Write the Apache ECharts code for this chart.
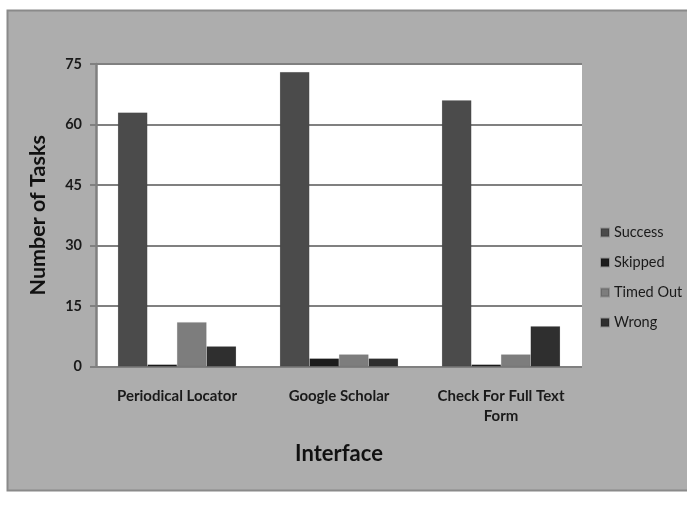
<!DOCTYPE html>
<html>
<head>
<meta charset="utf-8">
<script src="https://cdn.jsdelivr.net/npm/echarts@6/dist/echarts.min.js"></script>
<style>
html,body{margin:0;padding:0;background:#fff;}
#chart{width:687px;height:510px;}
</style>
</head>
<body>
<div id="chart"></div>
<script>
const categories = ['Periodical Locator', 'Google Scholar', 'Check For Full Text\nForm'];
const success = [63, 73, 66];
const skipped = [0.5, 2, 0.5];
const timedOut = [11, 3, 3];
const wrong = [5, 2, 10];
const yTicks = [0, 15, 30, 45, 60, 75];

const chart = echarts.init(document.getElementById('chart'));
const font = 'Lato, "Liberation Sans", sans-serif';
function bar(name, data, color) {
  return {
    name: name, type: 'bar', data: data, barGap: '0%', barCategoryGap: '27%',
    itemStyle: { color: color, borderColor: 'rgba(0,0,0,0.15)', borderWidth: 0.5 }
  };
}
chart.setOption({
  animation: false,
  textStyle: { fontFamily: font },
  graphic: [{
    type: 'rect', z: -10, silent: true,
    shape: { x: 7.5, y: 10.5, width: 682, height: 480 },
    style: { fill: '#adadad', stroke: '#8a8a8a', lineWidth: 2 }
  }],
  grid: {
    left: 96, right: 105, top: 64, bottom: 143.5,
    show: true, backgroundColor: '#ffffff', borderWidth: 0
  },
  legend: {
    orient: 'vertical', left: 595, top: 220,
    itemWidth: 8, itemHeight: 8, itemGap: 15,
    icon: 'rect',
    textStyle: { fontSize: 14.5, lineHeight: 14, color: '#1a1a1a', fontFamily: font },
    data: ['Success', 'Skipped', 'Timed Out', 'Wrong']
  },
  xAxis: {
    type: 'category', data: categories,
    name: 'Interface', nameLocation: 'middle', nameGap: 76,
    nameTextStyle: { fontSize: 22, fontWeight: 'bold', color: '#111', fontFamily: font },
    axisLine: { show: false },
    axisTick: { show: false },
    axisLabel: { fontSize: 15, fontWeight: 'bold', color: '#1a1a1a', margin: 20, lineHeight: 20, interval: 0, fontFamily: font }
  },
  yAxis: {
    type: 'value', min: yTicks[0], max: yTicks[yTicks.length - 1], interval: 15,
    name: 'Number of Tasks', nameLocation: 'middle', nameGap: 47,
    nameTextStyle: { fontSize: 21.5, fontWeight: 'bold', color: '#111', fontFamily: font },
    axisLine: { show: true, lineStyle: { color: '#808080', width: 2.5 } },
    axisTick: { show: true, length: 6, lineStyle: { color: '#808080', width: 2 } },
    axisLabel: { fontSize: 14.5, fontWeight: 'bold', color: '#1a1a1a', margin: 14, fontFamily: font },
    splitLine: { show: true, lineStyle: { color: '#808080', width: 2 } }
  },
  series: [
    bar('Success', success, '#4b4b4b'),
    bar('Skipped', skipped, '#1c1c1c'),
    bar('Timed Out', timedOut, '#7d7d7d'),
    bar('Wrong', wrong, '#2f2f2f')
  ]
});
</script>
</body>
</html>
